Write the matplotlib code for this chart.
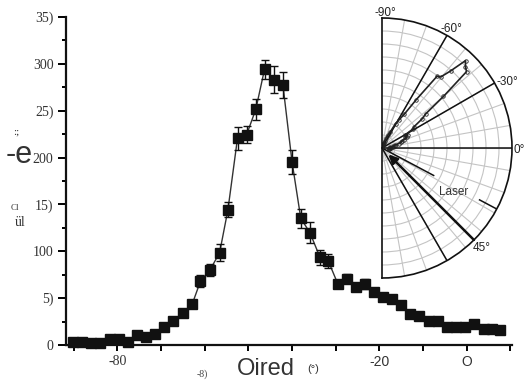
import numpy as np
import matplotlib.pyplot as plt

# scattering angle (deg) and intensity
angle = [-90.2, -88.2, -86.0, -83.9, -81.7, -79.7, -77.6, -75.5, -73.5, -71.3,
         -69.4, -67.2, -65.1, -62.9, -61.0, -58.8, -56.6, -54.7, -52.5, -50.4,
         -48.3, -46.3, -44.1, -42.1, -40.0, -38.0, -35.9, -33.6, -31.7, -29.5,
         -27.4, -25.3, -23.3, -21.2, -19.2, -17.0, -15.0, -12.9, -10.9, -8.7,
         -6.6, -4.5, -2.5, -0.3, 1.7, 3.9, 5.9, 7.7]
intensity = [3.5, 3.5, 2.5, 2.5, 6, 6, 3.5, 10.7, 8.9, 11.7,
             18.9, 25.6, 33.8, 43.4, 67.9, 80.1, 98.5, 144.1, 220.6, 224.5,
             251.6, 294.3, 282.9, 277.5, 195.3, 135.2, 119.8, 93.6, 89.6, 65.1,
             70.7, 62.2, 65.1, 56.9, 50.9, 48.8, 42.2, 32.8, 31.0, 25.9,
             25.9, 18.9, 18.9, 18.9, 22.1, 17.1, 17.1, 16.0]
error = [0, 0, 0, 0, 0, 0, 0, 0, 0, 0,
         0, 0, 0, 0, 6.5, 6, 9, 8, 12, 9,
         11, 10, 14.5, 14, 12.5, 10, 11, 8, 7, 0,
         5, 0, 5, 0, 0, 0, 0, 0, 0, 0,
         0, 0, 0, 0, 0, 0, 0, 0]

yticks = [0, 50, 100, 150, 200, 250, 300, 350]
ytick_labels = ['0', '5)', '100', '15)', '200', '25)', '300', '35)']
xticks = [-90, -80, -70, -60, -50, -40, -30, -20, -10, 0, 10]
xtick_labels = ['', '-80', '', '', '', '', '', '-20', '', 'O', '']

polar_labels = ['-90°', '-60°', '-30°', '0°', '45°']
polar_black = [-60, -30, 0, 60]
laser_angle = 45

W, H = 525, 382
def fx(x):
    return x / W
def fy(y):
    return 1 - y / H

fig = plt.figure(figsize=(W / 100, H / 100), dpi=100)

ax = fig.add_axes([fx(66), fy(345), (512 - 66) / W, (345 - 17) / H])
ang = np.array(angle)
inten = np.array(intensity)
err = np.array(error)
ax.plot(ang, inten, color='#333333', lw=1.0, zorder=2)
m = err > 0
ax.errorbar(ang[m], inten[m], yerr=err[m], fmt='none', ecolor='#111111',
            elinewidth=1.0, capsize=3, capthick=1.0, zorder=3)
ax.plot(ang, inten, 's', color='#111111', ms=7, zorder=4, clip_on=False)

ax.set_xlim(-91.8, 10.4)
ax.set_ylim(0, 350)
for s in ['top', 'right']:
    ax.spines[s].set_visible(False)
for s in ['left', 'bottom']:
    ax.spines[s].set_linewidth(1.6)
    ax.spines[s].set_color('#111111')

ax.set_yticks(yticks)
ax.set_yticklabels(ytick_labels, family='Liberation Serif', fontsize=10, color='#333333')
ax.set_yticks(np.arange(0, 351, 25), minor=True)
ax.tick_params(axis='y', which='major', direction='out', length=6, width=1.4, pad=3)
ax.tick_params(axis='y', which='minor', direction='out', length=3, width=1.4)
ax.set_xticks(xticks)
ax.set_xticklabels(xtick_labels, family='Liberation Sans', fontsize=10, color='#333333')
ax.tick_params(axis='x', direction='out', length=4, width=1.4, pad=3)
ax.get_xticklabels()[1].set_family('Liberation Serif')

# garbled axis texts
fig.text(fx(202), fy(374), '-8)', family='Liberation Serif', fontsize=7,
         color='#444444', ha='center', va='center')
fig.text(fx(266), fy(369), 'Oired', family='Liberation Sans', fontsize=17,
         color='#333333', ha='center', va='center')
fig.text(fx(313), fy(369), '(°)', family='Liberation Sans', fontsize=8,
         color='#333333', ha='center', va='center')
fig.text(fx(19), fy(155), '-e', family='Liberation Sans', fontsize=22,
         color='#333333', ha='center', va='center')
fig.text(fx(16), fy(132), ':;', family='Liberation Serif', fontsize=8,
         color='#333333', ha='center', va='center')
fig.text(fx(15), fy(208), 'Cl', family='Liberation Serif', fontsize=6.5,
         color='#333333', ha='center', va='center')
fig.text(fx(20), fy(222), 'ül', family='Liberation Serif', fontsize=10,
         color='#333333', ha='center', va='center')

# polar inset: half disc of radius 130 px centred at (382, 148)
pax = fig.add_axes([fx(317), fy(278), 260 / W, 260 / H], projection='polar')
pax.set_theta_zero_location('E')
pax.set_theta_direction(-1)
pax.set_thetamin(-90)
pax.set_thetamax(90)
pax.set_ylim(0, 1)
pax.set_rticks(np.arange(0.1, 1.0, 0.1))
pax.set_yticklabels([])
pax.set_thetagrids(np.arange(-80, 90, 10), labels=[])
pax.grid(color='#c4c4c4', lw=0.8)
pax.tick_params(length=0)
pax.set_facecolor('white')
for s in pax.spines.values():
    s.set_color('#111111')
    s.set_linewidth(1.2)

for a in polar_black:
    pax.plot([np.deg2rad(a)] * 2, [0, 1], color='#111111', lw=1.1)
pax.plot([np.deg2rad(28)] * 2, [0, 0.45], color='#111111', lw=1.1)
pax.plot([np.deg2rad(28)] * 2, [0.85, 1], color='#111111', lw=1.1)
pax.annotate('', xy=(np.deg2rad(laser_angle), 0.07), xytext=(np.deg2rad(laser_angle), 1.0),
             arrowprops=dict(arrowstyle='-|>', lw=1.8, color='#111111', mutation_scale=13,
                             shrinkA=0, shrinkB=0))
r = inten / inten.max() * 0.93
pax.plot(np.deg2rad(ang), r, color='#222222', lw=1.2, marker='o', ms=2.5,
         mfc='none', mew=0.6)

pos = [(385, 13), (451, 29), (507, 82), (519, 150), (482, 248)]
for t, (x, y) in zip(polar_labels, pos):
    fig.text(fx(x), fy(y), t, family='Liberation Sans', fontsize=8.5,
             color='#222222', ha='center', va='center')
fig.text(fx(454), fy(192), 'Laser', family='Liberation Sans', fontsize=8.5,
         color='#333333', ha='center', va='center')

fig.savefig('out.png', dpi=100)
